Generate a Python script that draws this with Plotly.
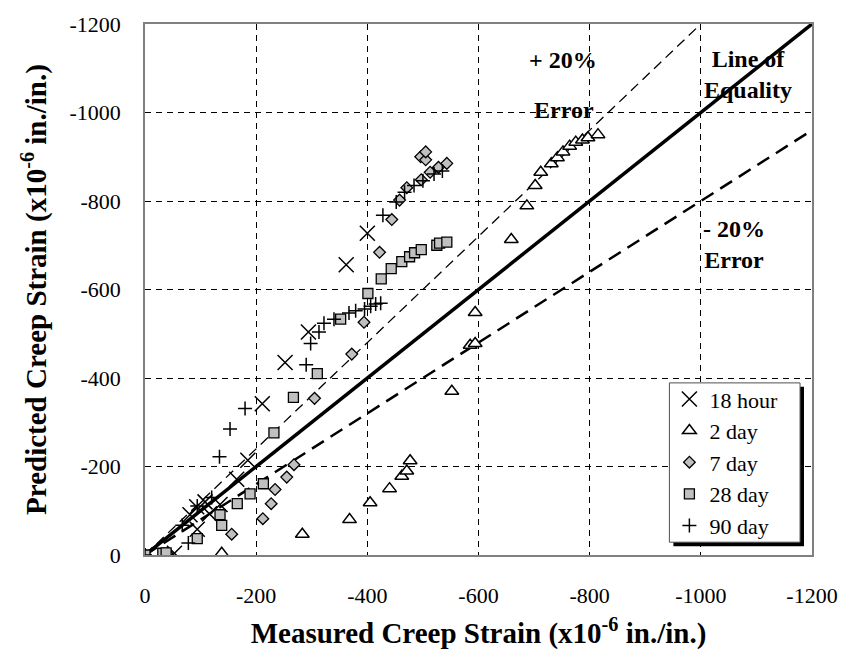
import plotly.graph_objects as go

# Measured vs predicted creep strain (x10^-6 in./in.) for each loading age
hour18_x = [0, -53, -81, -94, -93, -108, -116, -135, -165, -185, -211, -252, -294, -362, -400]
hour18_y = [0, -4, -91, -58, -109, -120, -93, -114, -171, -214, -342, -435, -504, -656, -727]

day2_x = [0, -138, -283, -368, -405, -440, -462, -471, -477, -552, -585, -594, -594, -659, -687,
          -702, -712, -731, -742, -752, -764, -775, -787, -797, -815]
day2_y = [0, -4, -47, -80, -118, -150, -178, -190, -213, -370, -474, -478, -548, -713, -789,
          -835, -865, -884, -898, -911, -924, -933, -938, -943, -950]

day7_x = [0, -40, -156, -212, -227, -234, -255, -268, -305, -372, -394, -422, -444, -458, -471,
          -497, -513, -528, -543, -496, -505, -505]
day7_y = [0, -3, -47, -82, -116, -148, -176, -204, -354, -454, -526, -684, -758, -802, -830,
          -848, -865, -876, -885, -900, -893, -911]

day28_x = [0, -32, -38, -94, -138, -135, -166, -189, -213, -232, -267, -310, -352, -401, -425,
           -443, -462, -476, -485, -497, -525, -530, -543]
day28_y = [0, -4, -5, -37, -67, -91, -116, -138, -161, -276, -356, -410, -533, -591, -624,
           -647, -663, -674, -683, -690, -700, -705, -707]

day90_x = [0, -67, -78, -94, -120, -134, -153, -180, -290, -298, -313, -322, -340, -367, -379,
           -395, -406, -415, -424, -428, -452, -467, -484, -500, -520, -535]
day90_y = [0, -67, -27, -111, -130, -222, -285, -331, -430, -478, -504, -524, -533, -547, -552,
           -556, -562, -567, -569, -768, -798, -820, -835, -846, -861, -868]

tick_vals = [0, -200, -400, -600, -800, -1000, -1200]
tick_text = ["0", "-200", "-400", "-600", "-800", "-1000", "-1200"]

# Reference lines: equality and +/-20 % error bands
equal_x = [0, -1200]
equal_y = [0, -1200]
plus20_x = [0, -1000]
plus20_y = [0, -1200]
minus20_x = [0, -1200]
minus20_y = [0, -960]

SERIF = "Liberation Serif, Times New Roman, serif"
GRAY = "#c0c0c0"

fig = go.Figure()

fig.add_trace(go.Scatter(x=plus20_x, y=plus20_y, mode="lines", showlegend=False,
                         line=dict(color="black", width=1.3, dash="10px,6px")))
fig.add_trace(go.Scatter(x=minus20_x, y=minus20_y, mode="lines", showlegend=False,
                         line=dict(color="black", width=2.5, dash="14px,8px")))
fig.add_trace(go.Scatter(x=equal_x, y=equal_y, mode="lines", showlegend=False,
                         line=dict(color="black", width=3.5)))

fig.add_trace(go.Scatter(x=hour18_x, y=hour18_y, mode="markers", name="18 hour",
                         marker=dict(symbol="x-thin", size=15, color="black",
                                     line=dict(color="black", width=1.5))))
fig.add_trace(go.Scatter(x=day2_x, y=day2_y, mode="markers", name="2 day",
                         marker=dict(symbol="triangle-up", size=12, color="white",
                                     line=dict(color="black", width=1.5))))
fig.add_trace(go.Scatter(x=day7_x, y=day7_y, mode="markers", name="7 day",
                         marker=dict(symbol="diamond", size=9, color=GRAY,
                                     line=dict(color="black", width=1.3))))
fig.add_trace(go.Scatter(x=day28_x, y=day28_y, mode="markers", name="28 day",
                         marker=dict(symbol="square", size=10, color=GRAY,
                                     line=dict(color="black", width=1.3))))
fig.add_trace(go.Scatter(x=day90_x, y=day90_y, mode="markers", name="90 day",
                         marker=dict(symbol="cross-thin", size=10, color="black",
                                     line=dict(color="black", width=1.5))))

axis_common = dict(
    tickvals=tick_vals, ticktext=tick_text,
    showgrid=True, gridcolor="black", gridwidth=1, griddash="6px,5px",
    zeroline=False, showline=True, linecolor="#808080", linewidth=1.5, mirror=True,
    ticks="", tickfont=dict(family=SERIF, size=22, color="black"),
)

fig.update_xaxes(range=[0, -1200], title=dict(
    text="<b>Measured Creep Strain (x10<sup>-6</sup> in./in.)</b>",
    font=dict(family=SERIF, size=29, color="black"), standoff=16),
    ticklabelstandoff=20, **axis_common)
fig.update_yaxes(range=[0, -1200], title=dict(
    text="<b>Predicted Creep Strain (x10<sup>-6</sup> in./in.)</b>",
    font=dict(family=SERIF, size=29, color="black"), standoff=14),
    ticklabelstandoff=18, **axis_common)

ann_font = dict(family=SERIF, size=24, color="black")
fig.add_annotation(x=-752, y=-1118, text="<b>+ 20%</b>", showarrow=False, font=ann_font)
fig.add_annotation(x=-754, y=-1005, text="<b>Error</b>", showarrow=False, font=ann_font)
fig.add_annotation(x=-1084, y=-1085, text="<b>Line of<br>Equality</b>", showarrow=False,
                   font=ann_font, align="center")
fig.add_annotation(x=-1060, y=-702, text="<b>- 20%<br>Error</b>", showarrow=False,
                   font=ann_font, align="center")

# legend frame with a drop shadow (paper coordinates of the plot area)
fig.add_shape(type="rect", xref="paper", yref="paper",
              x0=0.7922, x1=0.9880, y0=0.0167, y1=0.3167,
              fillcolor="black", line=dict(width=0), layer="above")
fig.add_shape(type="rect", xref="paper", yref="paper",
              x0=0.7862, x1=0.9821, y0=0.0241, y1=0.3241,
              fillcolor="white", line=dict(color="#505050", width=1), layer="above")

fig.update_layout(
    width=850, height=659,
    margin=dict(l=145, r=36, t=15, b=104),
    paper_bgcolor="white", plot_bgcolor="white",
    font=dict(family=SERIF, color="black"),
    legend=dict(x=0.7862, y=0.333, xanchor="left", yanchor="top",
                bgcolor="rgba(0,0,0,0)", borderwidth=0,
                font=dict(family=SERIF, size=22, color="black"),
                tracegroupgap=0, itemwidth=30),
    hovermode=False,
)

fig.write_html("out.html", config={"displayModeBar": False})
